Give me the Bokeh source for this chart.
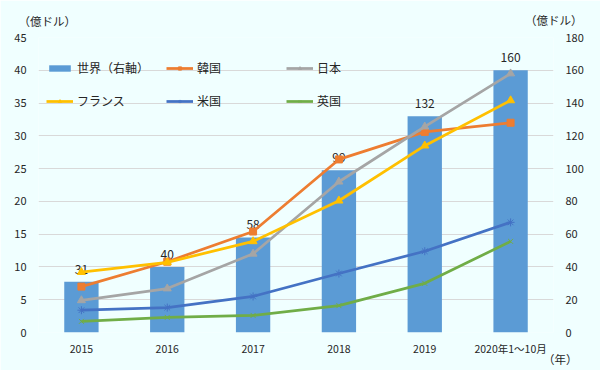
from bokeh.plotting import figure
from bokeh.models import (Range1d, LinearAxis, FactorRange, ColumnDataSource, Legend,
                          LegendItem, Title, FixedTicker)
from bokeh.core.properties import value
from bokeh.embed import file_html
from bokeh.resources import INLINE

years = ["2015", "2016", "2017", "2018", "2019", "2020年1～10月"]
world = [31, 40, 58, 99, 132, 160]
korea = [7.0, 10.8, 15.4, 26.4, 30.6, 32.0]
japan = [4.9, 6.7, 12.0, 23.0, 31.4, 39.5]
france = [9.2, 10.7, 13.9, 20.1, 28.5, 35.4]
usa = [3.4, 3.8, 5.5, 9.0, 12.4, 16.8]
uk = [1.7, 2.3, 2.6, 4.1, 7.5, 13.9]

FONT = "Noto Sans CJK JP"
BG = "#F0FFFF"
TXT = "#262626"

p = figure(x_range=FactorRange(*years), y_range=Range1d(0, 45), width=600, height=370,
           output_backend="svg", toolbar_location=None,
           min_border_left=38, min_border_right=47, min_border_top=37, min_border_bottom=38)
p.background_fill_color = BG
p.border_fill_color = BG
p.outline_line_color = None
p.extra_y_ranges = {"right": Range1d(0, 180)}

p.xgrid.grid_line_color = None
p.ygrid.grid_line_color = "#D9D9D9"
p.ygrid.ticker = FixedTicker(ticks=list(range(0, 50, 5)))

p.yaxis.ticker = FixedTicker(ticks=list(range(0, 50, 5)))
ra = LinearAxis(y_range_name="right", ticker=FixedTicker(ticks=list(range(0, 200, 20))))
p.add_layout(ra, "right")
for ax in [p.yaxis[0], ra, p.xaxis[0]]:
    ax.axis_line_color = None
    ax.major_tick_line_color = None
    ax.minor_tick_line_color = None
    ax.major_label_text_font = FONT
    ax.major_label_text_font_size = "11px"
    ax.major_label_text_color = TXT
p.yaxis[0].major_label_standoff = 6
ra.major_label_standoff = 6
p.xaxis[0].major_label_standoff = 2
p.xaxis[0].major_label_text_font_size = "10.5px"

src = ColumnDataSource(dict(x=years, world=world,
                            korea=korea, japan=japan, france=france, usa=usa, uk=uk,
                            lbl=[str(w) for w in world]))

bars = p.vbar(x="x", top="world", width=0.4, source=src, y_range_name="right",
              fill_color="#5B9BD5", line_color=None)
p.text(x="x", y="world", text="lbl", source=src, y_range_name="right",
       text_align="center", text_baseline="bottom", y_offset=-8,
       text_font=value(FONT), text_font_size="12px", text_color=TXT)

series = [
    ("韓国", "korea", "#ED7D31", "square", 7),
    ("日本", "japan", "#A5A5A5", "triangle", 8),
    ("フランス", "france", "#FFC000", "triangle", 8),
    ("米国", "usa", "#4472C4", "asterisk", 8),
    ("英国", "uk", "#70AD47", "x", 7),
]
rend = {}
for name, col, color, marker, size in series:
    l = p.line(x="x", y=col, source=src, line_color=color, line_width=2.75)
    s = p.scatter(x="x", y=col, source=src, marker=marker, size=size,
                  fill_color=color, line_color=color, line_width=1)
    rend[name] = [l, s]

def mk_legend(items, y):
    lg = Legend(items=items, orientation="horizontal", location=(8, y),
                background_fill_alpha=0, border_line_color=None,
                label_text_font=FONT, label_text_font_size="12px", label_text_color=TXT,
                glyph_width=27, glyph_height=8, label_width=89, label_height=14,
                label_standoff=4, spacing=0, padding=0, margin=0)
    p.add_layout(lg, "center")

mk_legend([LegendItem(label="世界（右軸）", renderers=[bars]),
           LegendItem(label="韓国", renderers=rend["韓国"]),
           LegendItem(label="日本", renderers=rend["日本"])], 256)
mk_legend([LegendItem(label="フランス", renderers=rend["フランス"]),
           LegendItem(label="米国", renderers=rend["米国"]),
           LegendItem(label="英国", renderers=rend["英国"])], 223)

def mk_title(text, align, offset, standoff, place, valign):
    t = Title(text=text, align=align, offset=offset, standoff=standoff,
              vertical_align=valign,
              text_font=FONT, text_font_size="11.5px", text_font_style="normal",
              text_color=TXT)
    p.add_layout(t, place)

mk_title("（億ドル）", "left", -20, 18, "above", "bottom")
mk_title("（億ドル）", "right", -29, -53, "above", "bottom")
mk_title("（年）", "right", -24, -15, "below", "top")

open("out.html", "w").write(file_html(p, INLINE))
